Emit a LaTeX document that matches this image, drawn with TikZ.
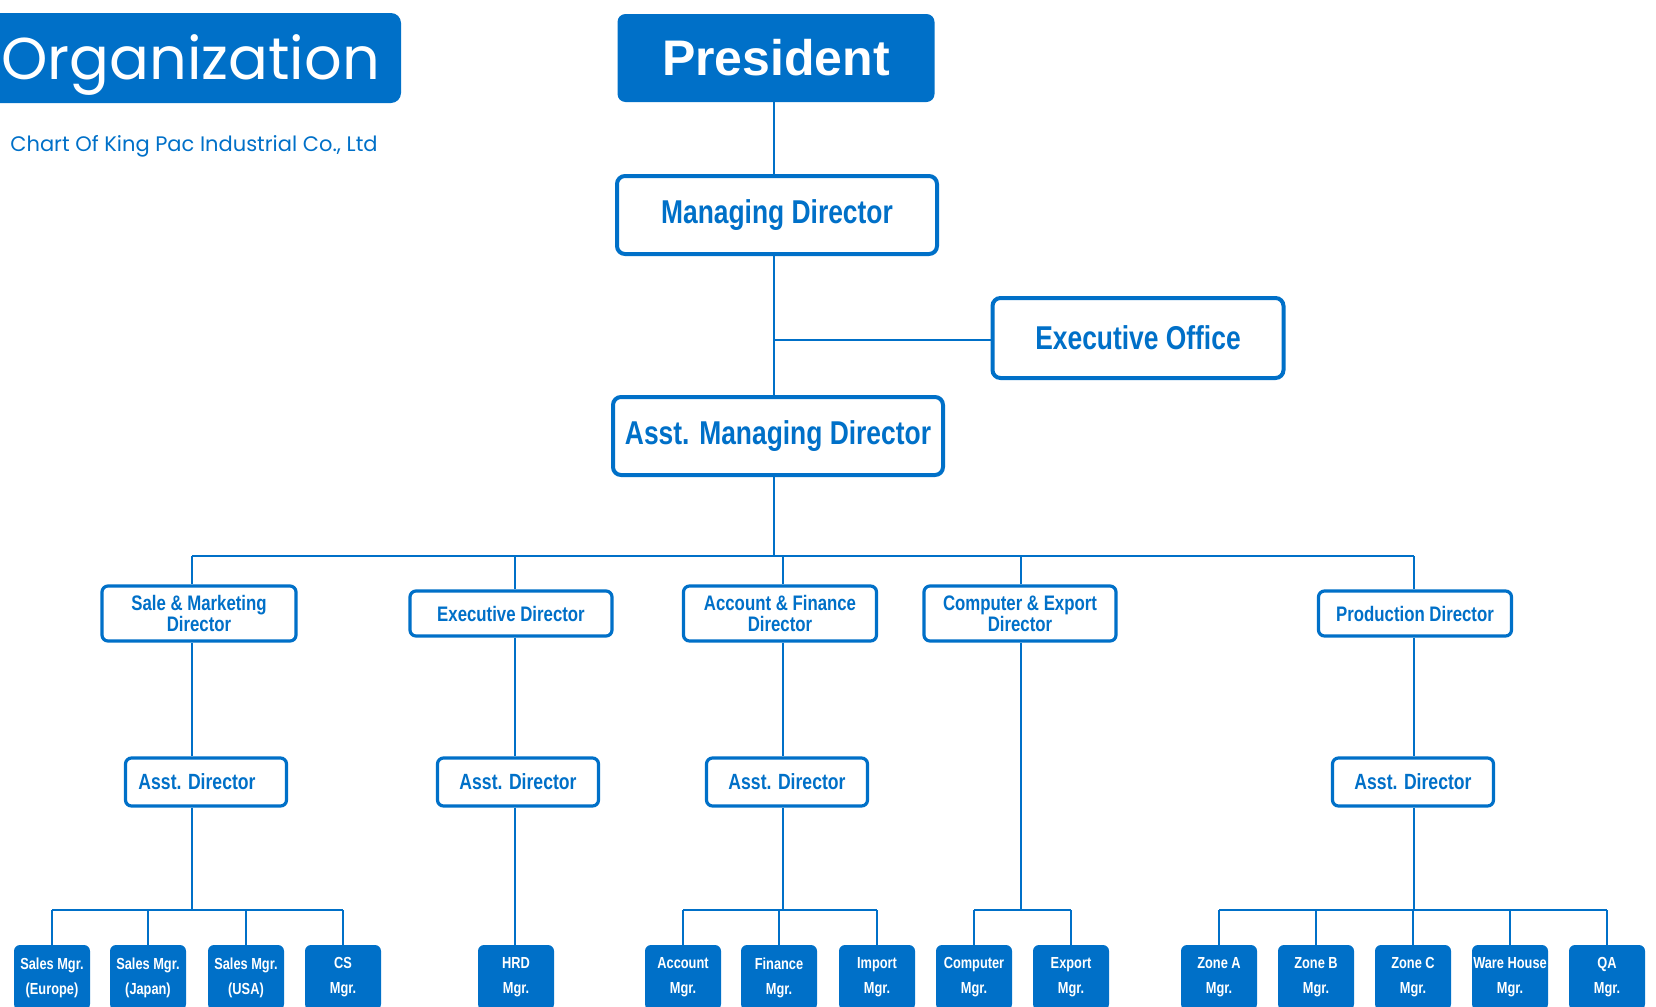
\documentclass[tikz,border=0pt]{standalone}
\usepackage{fontspec}
\setmainfont{Liberation Sans}
\newfontfamily\titlefont{Poppins}
\newfontfamily\chartfont[FakeStretch=0.8]{Liberation Sans}
\usetikzlibrary{positioning}
\definecolor{kpblue}{RGB}{0,112,200}

\begin{document}
\begin{tikzpicture}[x=0.5pt,y=0.5pt,yscale=-1,
  link/.style={draw=kpblue,line width=1.2pt},
  solidbox/.style={fill=kpblue,rounded corners=4pt,text=white,inner sep=0pt,align=center},
  headbox/.style={draw=kpblue,line width=2pt,fill=white,rounded corners=4pt,text=kpblue,inner sep=0pt,align=center,font=\chartfont\bfseries\fontsize{16.5}{18}\selectfont},
  dirbox/.style={draw=kpblue,line width=1.6pt,fill=white,rounded corners=3pt,text=kpblue,inner sep=0pt,align=center,font=\chartfont\bfseries\fontsize{10.5}{10.5}\selectfont},
  asstbox/.style={dirbox,minimum width=80.5pt,minimum height=24pt,font=\chartfont\bfseries\fontsize{11}{12}\selectfont},
  mgrbox/.style={solidbox,rounded corners=3pt,minimum width=38pt,minimum height=32.5pt,font=\chartfont\bfseries\fontsize{8}{12.5}\selectfont}]
\useasboundingbox (0,0) rectangle (1656,1007);
\clip (0,0) rectangle (1656,1007);

% title block
\node[solidbox,rounded corners=5pt,minimum width=210.5pt,minimum height=45pt,text height=21pt,text depth=0pt,font=\titlefont\fontsize{29.5}{34}\selectfont] (title) at (190.5,58) {Organization};
\node[anchor=east,inner sep=0pt,text=kpblue,font=\titlefont\fontsize{10.5}{13}\selectfont] (subtitle) at (378,146) {Chart Of King Pac Industrial Co., Ltd};

% top of the chart
\coordinate (axis) at (774,0);
\coordinate (bus) at (0,556);
\coordinate (lowbus) at (0,910);
\node[solidbox,minimum width=158.5pt,minimum height=44pt,font=\bfseries\fontsize{25}{30}\selectfont] (pres) at (776,58) {President};
\node[headbox,minimum width=160pt,minimum height=39pt] (md) at (777,215) {Managing Director};
\node[headbox,minimum width=145.5pt,minimum height=40pt] (exoffice) at (1138,338) {Executive Office};
\node[headbox,minimum width=165pt,minimum height=39pt] (amd) at (778,436) {Asst. Managing Director};

\draw[link] (pres.south -| axis) -- (md.north -| axis);
\draw[link] (md.south -| axis) -- (amd.north -| axis);
\draw[link] (exoffice.west |- 0,340) -- (axis |- 0,340);
\draw[link] (amd.south -| axis) -- (axis |- bus);

% directors
\coordinate (c1) at (192,556);
\coordinate (c2) at (515,556);
\coordinate (c3) at (783,556);
\coordinate (c4) at (1021,556);
\coordinate (c5) at (1414,556);
\node[dirbox,minimum width=97pt,minimum height=27.5pt] (saledir) at (199,613.5) {Sale \& Marketing\\Director};
\node[dirbox,minimum width=101pt,minimum height=22.5pt] (exdir) at (511,613.5) {Executive Director};
\node[dirbox,minimum width=96.5pt,minimum height=27.5pt] (accdir) at (780,613.5) {Account \& Finance\\Director};
\node[dirbox,minimum width=96pt,minimum height=27.5pt] (compdir) at (1020,613.5) {Computer \& Export\\Director};
\node[dirbox,minimum width=96.5pt,minimum height=22.5pt] (proddir) at (1415,613.5) {Production Director};

\draw[link] (c1) -- (c5);
\draw[link] (c1) -- (saledir.north -| c1);
\draw[link] (c2) -- (exdir.north -| c2);
\draw[link] (c3) -- (accdir.north -| c3);
\draw[link] (c4) -- (compdir.north -| c4);
\draw[link] (c5) -- (proddir.north -| c5);

% assistants
\node[asstbox] (asst1) at (206,782) {Asst. Director\hspace{9pt}};
\node[asstbox] (asst2) at (518,782) {Asst. Director};
\node[asstbox] (asst3) at (787,782) {Asst. Director};
\node[asstbox] (asst5) at (1413,782) {Asst. Director};

\draw[link] (saledir.south -| c1) -- (asst1.north -| c1);
\draw[link] (exdir.south -| c2) -- (asst2.north -| c2);
\draw[link] (accdir.south -| c3) -- (asst3.north -| c3);
\draw[link] (proddir.south -| c5) -- (asst5.north -| c5);

% managers
\node[mgrbox] (m1) at (52,977.5) {Sales Mgr.\\(Europe)};
\node[mgrbox] (m2) at (148,977.5) {Sales Mgr.\\(Japan)};
\node[mgrbox] (m3) at (246,977.5) {Sales Mgr.\\(USA)};
\node[mgrbox] (m4) at (343,977.5) {CS\\Mgr.};
\node[mgrbox] (m5) at (516,977.5) {HRD\\Mgr.};
\node[mgrbox] (m6) at (683,977.5) {Account\\Mgr.};
\node[mgrbox] (m7) at (779,977.5) {Finance\\Mgr.};
\node[mgrbox] (m8) at (877,977.5) {Import\\Mgr.};
\node[mgrbox] (m9) at (974,977.5) {Computer\\Mgr.};
\node[mgrbox] (m10) at (1071,977.5) {Export\\Mgr.};
\node[mgrbox] (m11) at (1219,977.5) {Zone A\\Mgr.};
\node[mgrbox] (m12) at (1316,977.5) {Zone B\\Mgr.};
\node[mgrbox] (m13) at (1413,977.5) {Zone C\\Mgr.};
\node[mgrbox] (m14) at (1510,977.5) {Ware House\\Mgr.};
\node[mgrbox] (m15) at (1607,977.5) {QA\\Mgr.};

\draw[link] (asst1.south -| c1) -- (c1 |- lowbus);
\draw[link] (asst2.south -| c2) -- (m5.north -| c2);
\draw[link] (asst3.south -| c3) -- (c3 |- lowbus);
\draw[link] (compdir.south -| c4) -- (c4 |- lowbus);
\draw[link] (asst5.south -| c5) -- (c5 |- lowbus);

\draw[link] (m1 |- lowbus) -- (m4 |- lowbus);
\draw[link] (m6 |- lowbus) -- (m8 |- lowbus);
\draw[link] (m9 |- lowbus) -- (m10 |- lowbus);
\draw[link] (m11 |- lowbus) -- (m15 |- lowbus);
\foreach \m in {m1,m2,m3,m4,m6,m7,m8,m9,m10,m11,m12,m13,m14,m15}
  \draw[link] (\m.north) -- (\m |- lowbus);

\end{tikzpicture}
\end{document}
